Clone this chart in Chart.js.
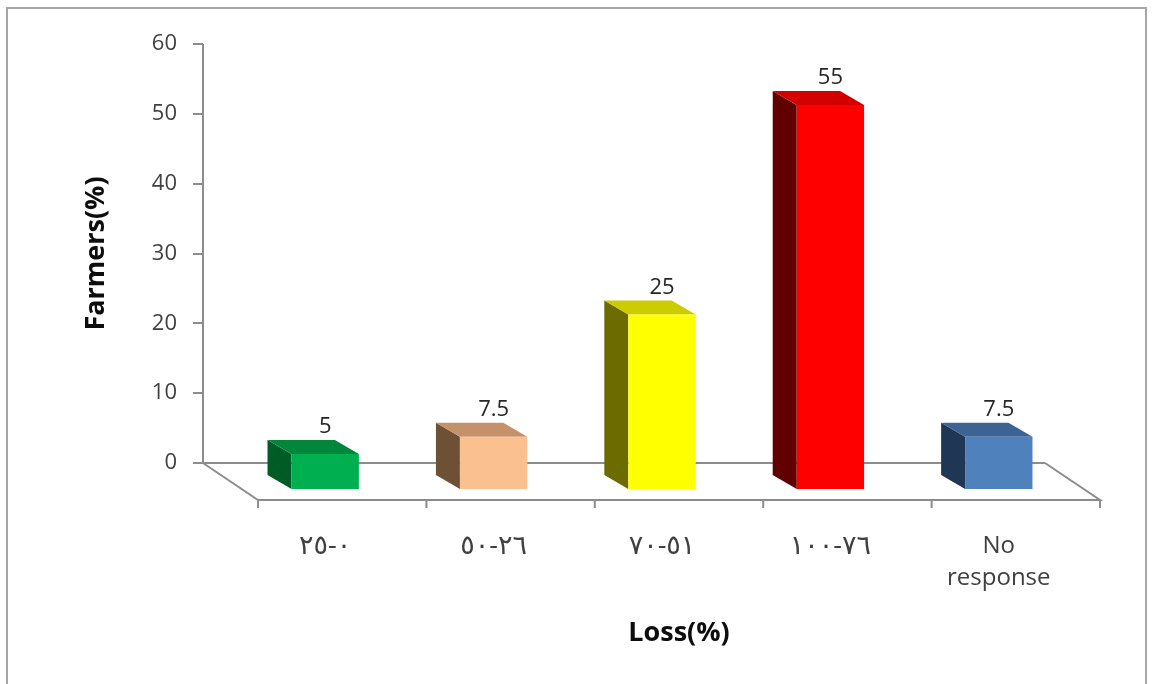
<!DOCTYPE html>
<html>
<head>
<meta charset="utf-8">
<script src="https://cdn.jsdelivr.net/npm/chart.js@4/dist/chart.umd.min.js"></script>
<style>
  body { margin: 0; background: #fff; }
  #wrap { position: relative; width: 1152px; height: 684px; }
  #frame { position: absolute; left: 6px; top: 7px; width: 1141px; height: 690px; border: 2px solid #a6a6a6; box-sizing: border-box; }
  canvas { position: absolute; left: 0; top: 0; }
</style>
</head>
<body>
<div id="wrap">
  <div id="frame"></div>
  <canvas id="chart" width="1152" height="684"></canvas>
</div>
<script>
// data
const categories = ['٠-٢٥', '٢٦-٥٠', '٥١-٧٠', '٧٦-١٠٠', ['No', 'response']];
const farmersPct = [5, 7.5, 25, 55, 7.5];
const yTicks = [0, 10, 20, 30, 40, 50, 60];

const frontColors = ['#00b050', '#fac08f', '#ffff00', '#ff0000', '#4f81bd'];
const sideColors = ['#005c25', '#6e5035', '#6b6b00', '#600000', '#1f3655'];
const topColors = ['#00873b', '#c4916a', '#cccc00', '#d40000', '#3b6394'];

const axisGray = '#8c8c8c';
const textGray = '#404040';
const font = '"Open Sans", "DejaVu Sans", sans-serif';

// 3d look
const pxPerUnit = 419 / 60;
const frontDx = 38, frontDy = 26;   // bar front plane vs back wall
const floorDx = 55, floorDy = 37;   // floor front edge vs back wall
const sideDx = -24, sideDy = -14;   // bar depth

const threeD = {
  id: 'threeD',
  beforeDatasetsDraw(chart) {
    const ctx = chart.ctx;
    const a = chart.chartArea;
    const y0 = chart.scales.y2.getPixelForValue(0);
    ctx.save();
    ctx.strokeStyle = axisGray;
    ctx.lineWidth = 2;
    // y axis line and wall bottom
    ctx.beginPath();
    ctx.moveTo(a.left, a.top);
    ctx.lineTo(a.left, y0);
    ctx.lineTo(a.right, y0);
    ctx.stroke();
    // floor
    ctx.beginPath();
    ctx.moveTo(a.left, y0);
    ctx.lineTo(a.left + floorDx, y0 + floorDy);
    ctx.lineTo(a.right + floorDx, y0 + floorDy);
    ctx.lineTo(a.right, y0);
    ctx.stroke();
    // category ticks at the floor front edge
    const n = categories.length;
    const step = (a.right - a.left) / n;
    ctx.beginPath();
    for (let i = 0; i <= n; i++) {
      const x = a.left + floorDx + step * i;
      ctx.moveTo(x, y0 + floorDy);
      ctx.lineTo(x, y0 + floorDy + 8);
    }
    ctx.stroke();
    // side and top faces of bars
    const meta = chart.getDatasetMeta(0);
    meta.data.forEach((bar, i) => {
      const p = bar.getProps(['x', 'y', 'base', 'width'], true);
      const l = p.x - p.width / 2, r = p.x + p.width / 2;
      ctx.fillStyle = sideColors[i];
      ctx.beginPath();
      ctx.moveTo(l, p.base);
      ctx.lineTo(l + sideDx, p.base + sideDy);
      ctx.lineTo(l + sideDx, p.y + sideDy);
      ctx.lineTo(l, p.y);
      ctx.closePath();
      ctx.fill();
      ctx.fillStyle = topColors[i];
      ctx.beginPath();
      ctx.moveTo(l, p.y);
      ctx.lineTo(l + sideDx, p.y + sideDy);
      ctx.lineTo(r + sideDx, p.y + sideDy);
      ctx.lineTo(r, p.y);
      ctx.closePath();
      ctx.fill();
    });
    ctx.restore();
  },
  afterDatasetsDraw(chart) {
    const ctx = chart.ctx;
    const meta = chart.getDatasetMeta(0);
    ctx.save();
    ctx.fillStyle = '#262626';
    ctx.font = '22px ' + font;
    ctx.textAlign = 'center';
    ctx.textBaseline = 'middle';
    meta.data.forEach((bar, i) => {
      ctx.fillText(String(farmersPct[i]), bar.x, bar.y - 27);
    });
    // x axis title, centred on the floor front edge
    const a = chart.chartArea;
    ctx.fillStyle = '#0d0d0d';
    ctx.font = 'bold 27px ' + font;
    ctx.fillText('Loss(%)', (a.left + a.right) / 2 + floorDx, 633);
    ctx.restore();
  }
};

const xMin = -(frontDx + 84.2) / 168.4;

new Chart(document.getElementById('chart'), {
  type: 'bar',
  data: {
    labels: categories,
    datasets: [{
      data: farmersPct.map((v, i) => ({ x: i, y: v })),
      backgroundColor: frontColors,
      borderWidth: 0,
      barPercentage: 0.4,
      categoryPercentage: 1,
      base: 0,
      clip: false
    }]
  },
  options: {
    responsive: false,
    animation: false,
    layout: { padding: { left: 0, top: 44, right: 107, bottom: 0 } },
    plugins: { legend: { display: false }, tooltip: { enabled: false } },
    scales: {
      x: {
        type: 'linear',
        offset: false,
        min: xMin,
        max: xMin + 5,
        grid: { display: false },
        border: { display: false },
        afterBuildTicks: s => { s.ticks = categories.map((c, i) => ({ value: i })); },
        afterFit: s => { s.height = 684 - 463; },
        ticks: {
          callback: v => categories[v],
          maxRotation: 0,
          autoSkip: false,
          padding: 59,
          color: textGray,
          font: c => ({ family: font, size: c.index === 4 ? 24 : 27, lineHeight: '32px' })
        }
      },
      y: {
        display: false,
        min: frontDy / pxPerUnit,
        max: 60 + frontDy / pxPerUnit
      },
      y2: {
        position: 'left',
        min: 0,
        max: 60,
        afterBuildTicks: s => { s.ticks = yTicks.map(v => ({ value: v })); },
        afterFit: s => { s.width = 203; },
        grid: { drawOnChartArea: false, drawTicks: true, tickLength: 10, color: axisGray, lineWidth: 2 },
        border: { display: false },
        ticks: { padding: 16, color: textGray, font: { family: font, size: 22 } },
        title: {
          display: true,
          text: 'Farmers(%)',
          color: '#0d0d0d',
          padding: { top: 80, bottom: 0 },
          font: { family: font, size: 27, weight: 'bold' }
        }
      }
    }
  },
  plugins: [threeD]
});
</script>
</body>
</html>
